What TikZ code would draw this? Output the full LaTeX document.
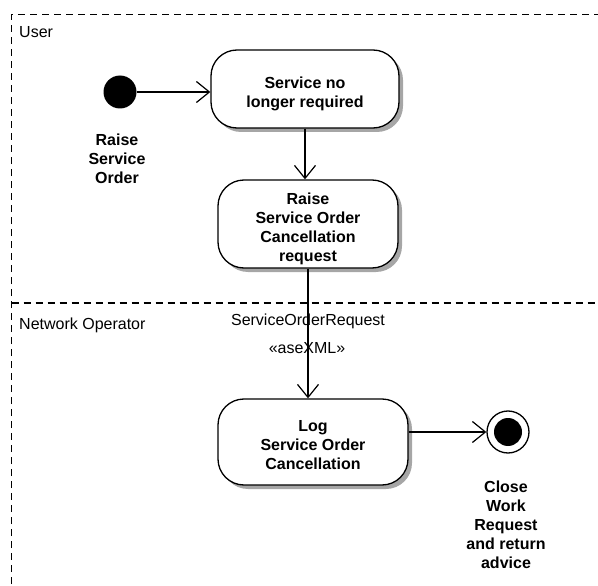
\documentclass[tikz,border=0pt]{standalone}
\usepackage{fontspec}
\setmainfont{Liberation Sans}
\usetikzlibrary{arrows.meta,shadows}
\newcommand\myup[1]{\rule{0pt}{#1}}
\begin{document}
\begin{tikzpicture}[x=1pt,y=-1pt,
  font=\fontsize{16}{19}\selectfont,
  act/.style={draw, line width=1.3pt, rounded corners=26pt, fill=white, align=center,
    font=\fontsize{16}{19}\selectfont\bfseries, inner sep=0pt,
    drop shadow={shadow xshift=4pt, shadow yshift=-4pt, fill=black!35, opacity=1}},
  flow/.style={line width=1.2pt, -{Straight Barb[length=13pt,width=21pt,line width=1.2pt]}},
  lane/.style={dash pattern=on 7pt off 5pt, line width=1.5pt},
  lbl/.style={align=center, font=\fontsize{16}{19}\selectfont\bfseries, inner sep=0pt},
  txt/.style={inner sep=0pt}]
\useasboundingbox (0,0) rectangle (598,586);
\clip (0,0) rectangle (598,586);
% swimlane frame
\draw[lane] (11.5,620) -- (11.5,14.5) -- (620,14.5);
\draw[lane] (11.5,303) -- (620,303);
\node[txt, anchor=west] (user) at (19,32) {User};
\node[txt, anchor=west] (netop) at (19,325) {Network Operator};
% nodes
\node[circle, fill=black, minimum size=33pt, inner sep=0pt] (init) at (120,92) {};
\node[lbl] (linit) at (117,159) {Raise\\Service\\Order};
\node[act, minimum width=188pt, minimum height=78pt] (b1) at (305,89) {\myup{21pt}Service no\\longer required};
\node[act, minimum width=180pt, minimum height=88pt] (b2) at (308,224) {\myup{21pt}Raise\\Service Order\\Cancellation\\request};
\node[act, minimum width=190pt, minimum height=86pt] (b3) at (313,442) {\myup{18pt}Log\\Service Order\\Cancellation};
\node[circle, draw, line width=1.3pt, minimum size=42pt, inner sep=0pt] (fin) at (508,432) {};
\node[circle, fill=black, minimum size=28pt, inner sep=0pt] (finin) at (fin) {};
\node[lbl] (lfin) at (506,525) {Close\\Work\\Request\\and return\\advice};
\node[txt] (m1) at (308,321) {ServiceOrderRequest};
\node[txt] (m2) at (307,348) {«aseXML»};
% connectors
\draw[flow] (init) -- (init -| b1.west);
\draw[flow] (b1.south) -- (b1.south |- b2.north);
\draw[flow] (b2.south) -- (b2.south |- b3.north);
\draw[flow] (fin.west -| b3.east) -- (fin);
\end{tikzpicture}
\end{document}
